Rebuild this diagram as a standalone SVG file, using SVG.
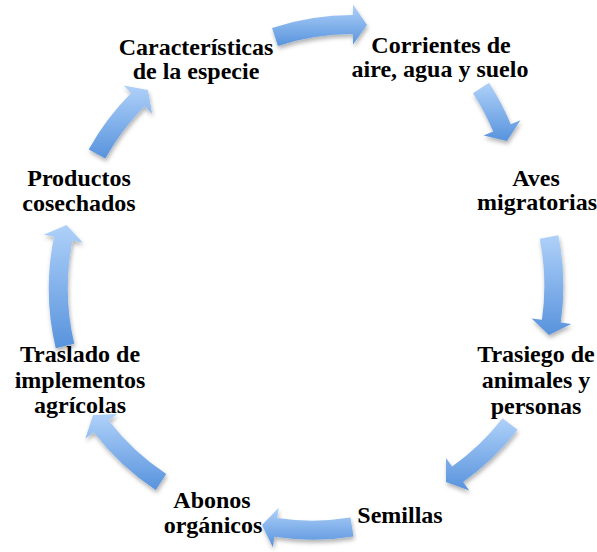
<svg xmlns="http://www.w3.org/2000/svg" width="597" height="552" viewBox="0 0 597 552">
<defs>
<linearGradient id="g" x1="0" y1="0" x2="0" y2="1">
<stop offset="0" stop-color="#afd1f9"/>
<stop offset="1" stop-color="#5893dd"/>
</linearGradient>
<filter id="sh" x="-20%" y="-20%" width="140%" height="140%">
<feDropShadow dx="1" dy="3" stdDeviation="2" flood-color="#000" flood-opacity="0.3"/>
</filter>
<style>
.arr{fill:url(#g);filter:url(#sh)}
.t{font-family:"Liberation Serif","Times New Roman",serif;font-weight:bold;font-size:24px;fill:#000;text-anchor:middle}
</style>
</defs>
<rect width="597" height="552" fill="#fff"/>
<g id="connectors">
<path class="arr" d="M272.05,27.97 A259.5,259.5 0 0 1 353.03,15.10 L353.04,4.60 L367.02,25.01 L353.00,44.60 L353.01,34.10 A240.5,240.5 0 0 0 277.96,46.03 Z"/>
<path class="arr" d="M488.98,82.84 A259.5,259.5 0 0 1 510.76,124.27 L520.46,120.24 L507.00,140.99 L483.52,135.59 L493.22,131.56 A240.5,240.5 0 0 0 473.02,93.16 Z"/>
<path class="arr" d="M558.32,235.14 A259.5,259.5 0 0 1 560.77,322.54 L571.16,324.02 L549.00,335.00 L531.56,318.38 L541.95,319.86 A240.5,240.5 0 0 0 539.68,238.86 Z"/>
<path class="arr" d="M517.50,429.83 A259.5,259.5 0 0 1 463.12,481.96 L469.21,490.51 L445.98,482.02 L446.02,457.93 L452.10,466.48 A240.5,240.5 0 0 0 502.50,418.17 Z"/>
<path class="arr" d="M353.50,536.38 A259.5,259.5 0 0 1 274.40,536.84 L272.86,547.23 L262.00,525.01 L278.72,507.66 L277.18,518.05 A240.5,240.5 0 0 0 350.50,517.62 Z"/>
<path class="arr" d="M155.75,489.92 A259.5,259.5 0 0 1 93.72,432.13 L85.41,438.54 L93.01,415.00 L117.09,414.12 L108.77,420.53 A240.5,240.5 0 0 0 166.25,474.08 Z"/>
<path class="arr" d="M55.75,348.18 A259.5,259.5 0 0 1 54.02,236.75 L43.73,234.65 L66.50,225.00 L82.92,242.63 L72.63,240.54 A240.5,240.5 0 0 0 74.25,343.82 Z"/>
<path class="arr" d="M88.70,149.38 A259.5,259.5 0 0 1 131.11,92.97 L123.65,85.57 L147.99,89.99 L152.06,113.74 L144.60,106.34 A240.5,240.5 0 0 0 105.30,158.62 Z"/>
</g>
<g id="n1"><text class="t" x="196" y="55">Características</text><text class="t" x="196" y="79">de la especie</text></g>
<g id="n2"><text class="t" x="441" y="53">Corrientes de</text><text class="t" x="440" y="77">aire, agua y suelo</text></g>
<g id="n3"><text class="t" x="536" y="186">Aves</text><text class="t" x="537" y="210">migratorias</text></g>
<g id="n4"><text class="t" x="536" y="362">Trasiego de</text><text class="t" x="536" y="388">animales y</text><text class="t" x="536" y="414">personas</text></g>
<g id="n5"><text class="t" x="400" y="523">Semillas</text></g>
<g id="n6"><text class="t" x="212" y="508">Abonos</text><text class="t" x="213" y="533">orgánicos</text></g>
<g id="n7"><text class="t" x="80" y="362">Traslado de</text><text class="t" x="80" y="388">implementos</text><text class="t" x="80" y="413">agrícolas</text></g>
<g id="n8"><text class="t" x="79" y="186">Productos</text><text class="t" x="79" y="211">cosechados</text></g>
</svg>
